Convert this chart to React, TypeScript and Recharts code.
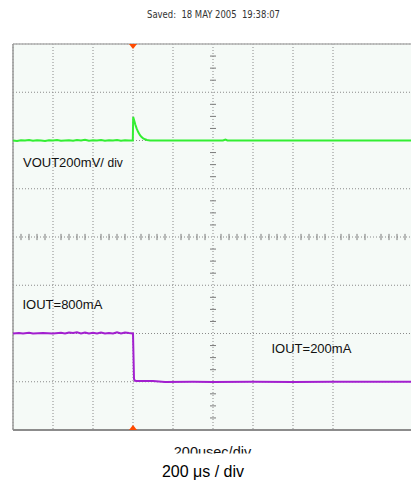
import React from "react";
import {
  ComposedChart,
  Line,
  XAxis,
  YAxis,
  CartesianGrid,
  ReferenceLine,
  ReferenceDot,
} from "recharts";

// time axis in microseconds (200 us / div, 10 divisions)
const timeTicks = [0, 200, 400, 600, 800, 1000, 1200, 1400, 1600, 1800, 2000];
// VOUT axis (deviation in mV, 200 mV / div, 8 divisions)
const voutTicks = [-1200, -1000, -800, -600, -400, -200, 0, 200, 400];
const triggerTime = 600;
const centreTime = 1000;
const centreVout = -400;

// VOUT deviation (mV)
const voutTime = [0, 20, 40, 60, 80, 100, 120, 140, 160, 180, 200, 220, 240, 260, 280, 300, 320, 340, 360, 380, 400, 420, 440, 460, 480, 500, 520, 540, 560, 580, 599, 601, 607, 612, 618, 626, 635, 643, 651, 660, 670, 685, 720, 800, 900, 1000, 1050, 1062, 1072, 1200, 1400, 1600, 1800, 2000];
const voutValue = [0, -2, 1, 0, 2, -1, 1, 0, -2, 1, 0, 2, -1, 0, 1, -1, 2, 0, 3, -1, 1, 0, 2, -1, 1, 0, 2, -1, 1, 0, 0, 97, 80, 65, 50, 35, 22, 14, 9, 5, 2, 0, 0, 0, 0, 0, 0, 4, 0, 0, 0, 0, 0, 0];

// IOUT (mA)
const ioutTime = [0, 30, 50, 80, 100, 150, 200, 240, 260, 280, 300, 320, 340, 360, 380, 400, 420, 440, 460, 480, 500, 520, 540, 560, 580, 599, 600, 605, 610, 620, 700, 760, 900, 1000, 1200, 1400, 1600, 1800, 2000];
const ioutValue = [800, 805, 800, 810, 800, 805, 800, 808, 800, 812, 805, 815, 800, 812, 800, 810, 800, 812, 800, 805, 800, 815, 800, 812, 805, 800, 800, 235, 212, 210, 210, 198, 200, 198, 200, 198, 200, 199, 200];

// minor ticks on the centre crosshair
const hMinorTicks = [40, 80, 120, 160, 240, 280, 320, 360, 440, 480, 520, 560, 640, 680, 720, 760, 840, 880, 920, 960, 1040, 1080, 1120, 1160, 1240, 1280, 1320, 1360, 1440, 1480, 1520, 1560, 1640, 1680, 1720, 1760, 1840, 1880, 1920, 1960];
const vMinorTicks = [-1150, -1100, -1050, -950, -900, -850, -750, -700, -650, -550, -500, -450, -350, -300, -250, -150, -100, -50, 50, 100, 150, 250, 300, 350];

const voutData = voutTime.map((t, i) => ({ t, v: voutValue[i] }));
const ioutData = ioutTime.map((t, i) => ({ t, i: ioutValue[i] }));

const GREEN = "#33ee33";
const PURPLE = "#a21fcf";
const ORANGE = "#ff4a00";
const TICK = "#7a7a7a";
const FONT = "'Liberation Sans', Arial, sans-serif";

const TriDown = (p: any) => (
  <polygon
    points={`${p.cx - 4},${p.cy} ${p.cx + 4},${p.cy} ${p.cx},${p.cy + 5}`}
    fill={ORANGE}
  />
);
const TriUp = (p: any) => (
  <polygon
    points={`${p.cx - 4},${p.cy} ${p.cx + 4},${p.cy} ${p.cx},${p.cy - 5}`}
    fill={ORANGE}
  />
);

export default function App() {
  return (
    <div
      style={{
        position: "absolute",
        left: 0,
        top: 0,
        width: 411,
        height: 482,
        overflow: "hidden",
        background: "#ffffff",
      }}
    >
      <ComposedChart
        width={413}
        height={482}
        margin={{ top: 44, left: 13, right: 0, bottom: 52 }}
      >
        <XAxis
          type="number"
          dataKey="t"
          domain={[0, 2000]}
          ticks={timeTicks}
          hide
        />
        <YAxis yAxisId="v" type="number" domain={[-1200, 400]} ticks={voutTicks} hide />
        <YAxis yAxisId="i" type="number" domain={[-400, 4400]} hide />
        <CartesianGrid
          yAxisId="v"
          fill="#f5faf7"
          stroke="#8a8a8a"
          strokeDasharray="1 2"
        />
        {hMinorTicks.map((t) => (
          <ReferenceLine
            key={"h" + t}
            yAxisId="v"
            segment={[
              { x: t, y: centreVout - 13 },
              { x: t, y: centreVout + 13 },
            ]}
            stroke={TICK}
            strokeWidth={1}
            ifOverflow="visible"
          />
        ))}
        {vMinorTicks.map((d) => (
          <ReferenceLine
            key={"v" + d}
            yAxisId="v"
            segment={[
              { x: centreTime - 15, y: d },
              { x: centreTime + 15, y: d },
            ]}
            stroke={TICK}
            strokeWidth={1}
            ifOverflow="visible"
          />
        ))}
        <ReferenceLine yAxisId="v" y={400} stroke="#b0b0b0" strokeWidth={1.5} ifOverflow="visible" />
        <ReferenceLine yAxisId="v" x={0} stroke="#9a9a9a" strokeWidth={1.5} ifOverflow="visible" />
        <Line
          yAxisId="v"
          data={voutData}
          dataKey="v"
          type="linear"
          stroke={GREEN}
          strokeWidth={2}
          dot={false}
          activeDot={false}
          isAnimationActive={false}
        />
        <Line
          yAxisId="i"
          data={ioutData}
          dataKey="i"
          type="linear"
          stroke={PURPLE}
          strokeWidth={2}
          dot={false}
          activeDot={false}
          isAnimationActive={false}
        />
        <ReferenceLine yAxisId="v" y={-1200} stroke="#8c8c8c" strokeWidth={2} ifOverflow="visible" />
        <ReferenceDot
          yAxisId="v"
          x={triggerTime}
          y={400}
          shape={TriDown}
          ifOverflow="visible"
        />
        <ReferenceDot
          yAxisId="v"
          x={triggerTime}
          y={-1200}
          shape={TriUp}
          ifOverflow="visible"
        />
      </ComposedChart>
      <svg
        width={411}
        height={482}
        style={{ position: "absolute", left: 0, top: 0, pointerEvents: "none" }}
      >
        <defs>
          <clipPath id="cutLabel">
            <rect x={133} y={438} width={159} height={15.5} />
          </clipPath>
        </defs>
        <text
          x={147}
          y={18}
          textLength={133}
          lengthAdjust="spacingAndGlyphs"
          fontFamily="'Liberation Sans Narrow', 'DejaVu Sans Condensed', sans-serif"
          fontSize={10.5}
          fill="#333"
          style={{ whiteSpace: "pre" }}
        >
          {"Saved:  18 MAY 2005  19:38:07"}
        </text>
        <text x={23} y={166.5} fontFamily={FONT} fontSize={13} fill="#111">
          VOUT200mV/ <tspan fontSize={12}>div</tspan>
        </text>
        <text x={22.5} y={308.5} fontFamily={FONT} fontSize={13} fill="#111">
          IOUT=800mA
        </text>
        <text x={271.5} y={353} fontFamily={FONT} fontSize={13} fill="#111">
          IOUT=200mA
        </text>
        <rect x={133} y={438} width={159} height={15.5} fill="#ffffff" />
        <g clipPath="url(#cutLabel)">
          <text
            x={212.5}
            y={457.3}
            textAnchor="middle"
            fontFamily={FONT}
            fontSize={14.5}
            fill="#111"
          >
            200usec/div
          </text>
        </g>
        <text
          x={203}
          y={477}
          textAnchor="middle"
          fontFamily={FONT}
          fontSize={16}
          fill="#000"
        >
          200 μs / div
        </text>
      </svg>
    </div>
  );
}
